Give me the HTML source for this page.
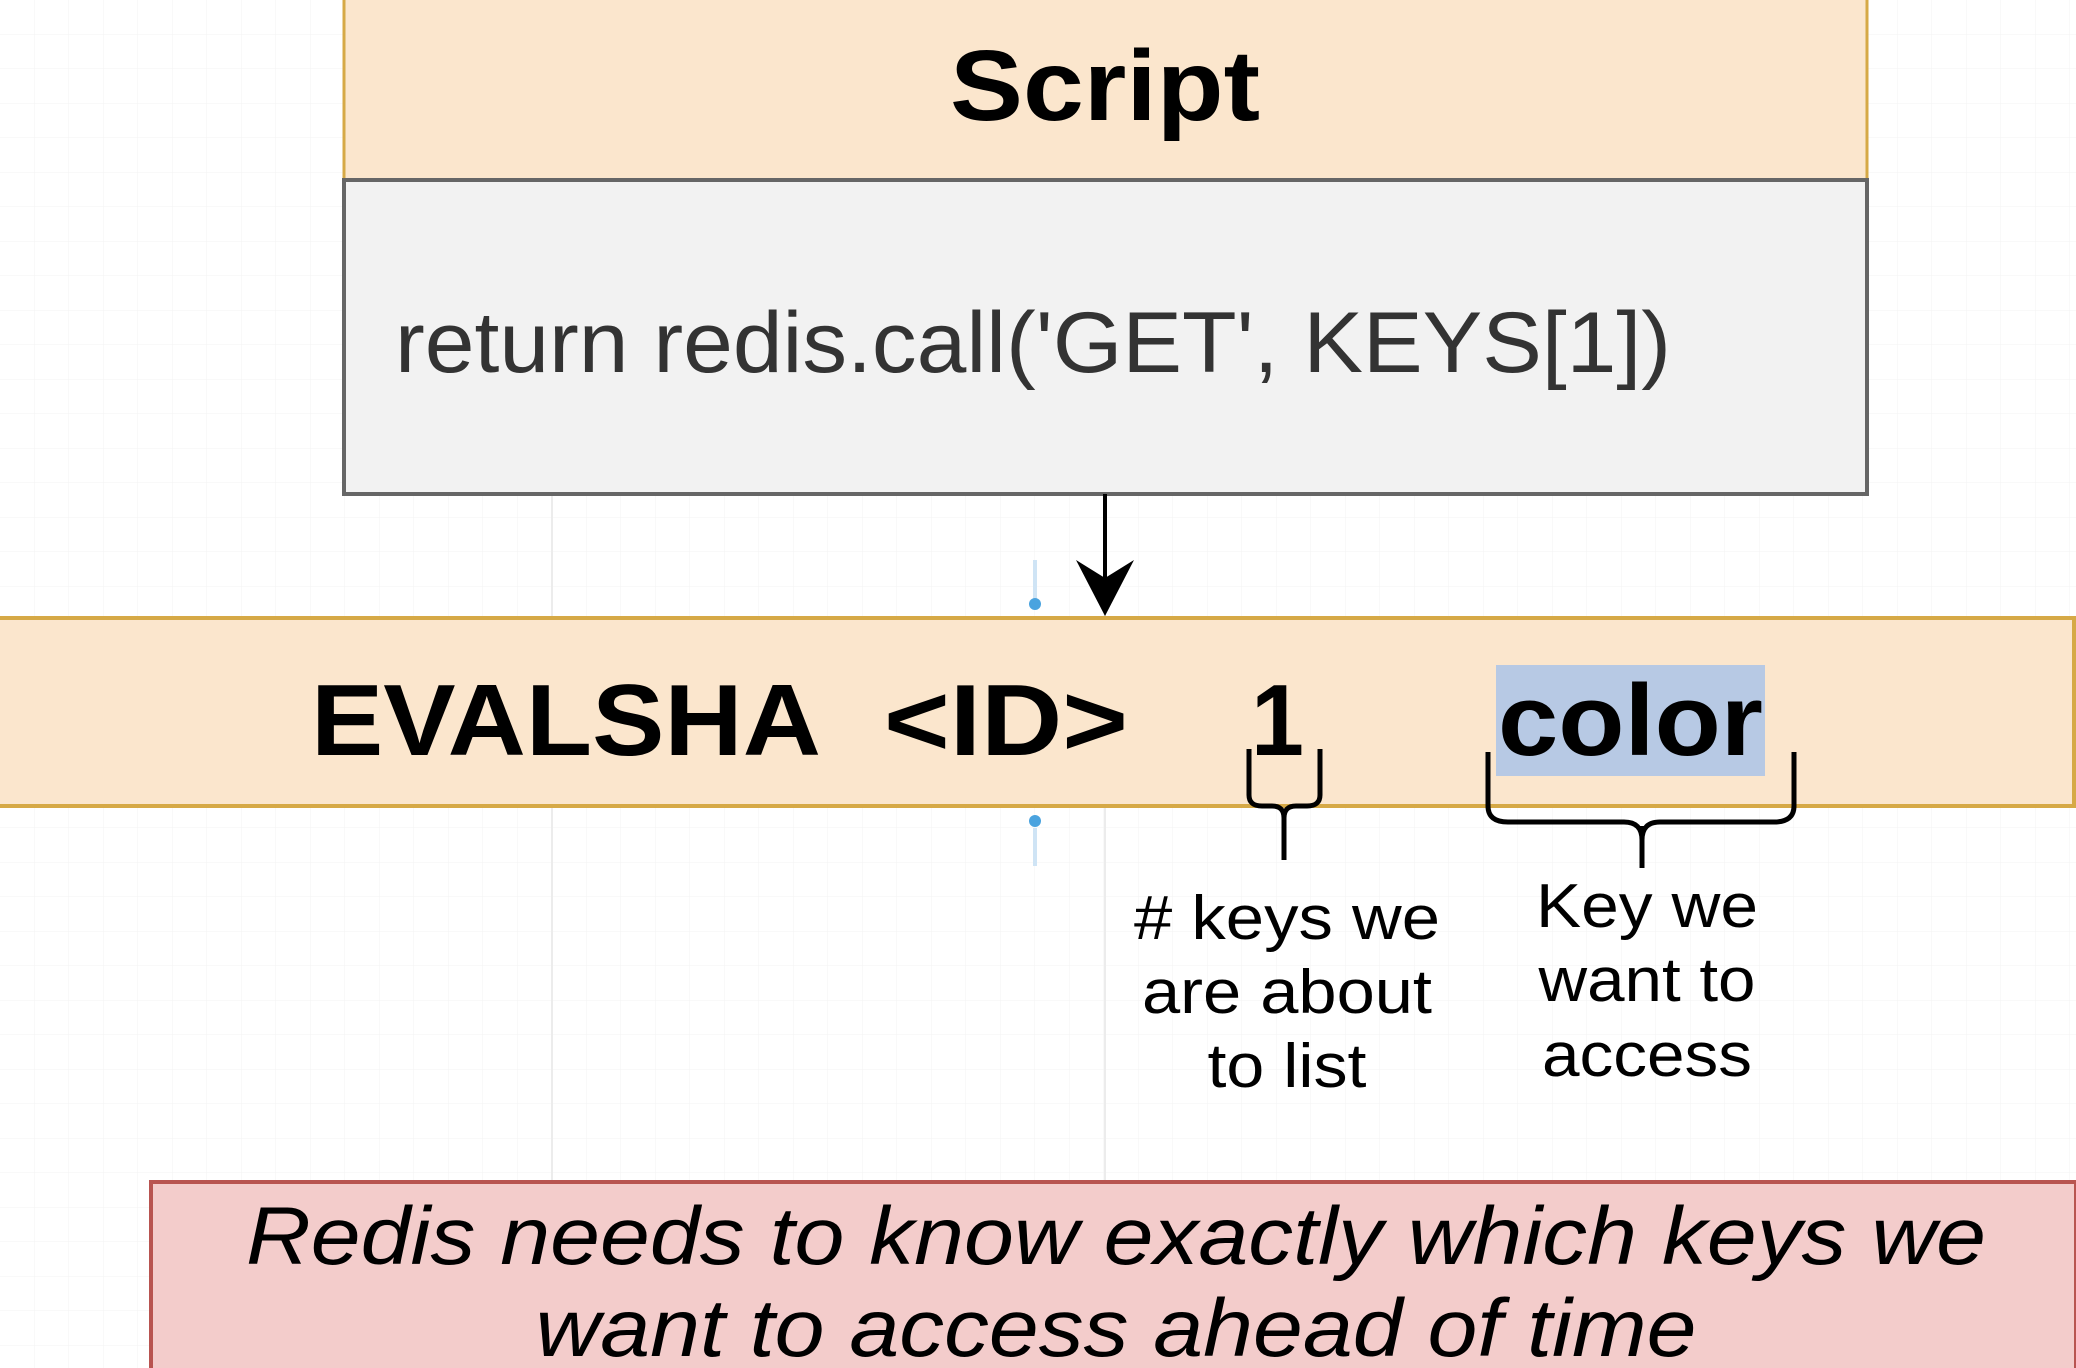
<!DOCTYPE html>
<html><head><meta charset="utf-8"><style>
html,body{margin:0;padding:0;background:#fff}
svg{display:block}
text{font-family:"Liberation Sans",Arial,sans-serif}
</style></head><body>
<svg width="2076" height="1368" viewBox="0 0 2076 1368" xmlns="http://www.w3.org/2000/svg">
<defs>
<pattern id="g" width="34.5" height="34.5" patternUnits="userSpaceOnUse" x="0" y="0">
<path d="M34.5 0V34.5H0" fill="none" stroke="#f3f3f3" stroke-width="1"/>
</pattern>
</defs>
<rect width="2076" height="1368" fill="url(#g)"/>
<line x1="552" y1="0" x2="552" y2="1368" stroke="#ececec" stroke-width="2"/>
<line x1="1105" y1="0" x2="1105" y2="1368" stroke="#ececec" stroke-width="2"/>
<rect x="344" y="-4" width="1523" height="184" fill="#fbe6cd" stroke="#d6a946" stroke-width="3"/>
<text x="1105" y="120" font-size="100" font-weight="bold" text-anchor="middle" fill="#000" textLength="310" lengthAdjust="spacingAndGlyphs">Script</text>
<rect x="344" y="180" width="1523" height="314" fill="#f2f2f2" stroke="#666" stroke-width="4"/>
<text x="395" y="372" font-size="86" fill="#333" textLength="1276" lengthAdjust="spacingAndGlyphs">return redis.call('GET', KEYS[1])</text>
<line x1="1105" y1="494" x2="1105" y2="590" stroke="#000" stroke-width="4"/>
<path d="M1076 560 L1105 616 L1134 560 L1105 578 Z" fill="#000"/>
<line x1="1035" y1="560" x2="1035" y2="600" stroke="#cfe4f5" stroke-width="4"/>
<circle cx="1035" cy="604" r="6" fill="#4aa3df"/>
<circle cx="1035" cy="821" r="6" fill="#4aa3df"/>
<line x1="1035" y1="828" x2="1035" y2="866" stroke="#cfe4f5" stroke-width="4"/>
<rect x="-4" y="618" width="2078" height="188" fill="#fbe6cd" stroke="#d6a946" stroke-width="4"/>
<rect x="1496" y="665" width="269" height="111" fill="#b7c9e4"/>
<g font-weight="bold" font-size="101" fill="#000">
<text x="311" y="755" textLength="510" lengthAdjust="spacingAndGlyphs">EVALSHA</text>
<text x="884" y="755" textLength="244" lengthAdjust="spacingAndGlyphs">&lt;ID&gt;</text>
<text x="1251" y="755" textLength="53" lengthAdjust="spacingAndGlyphs">1</text>
<text x="1498" y="755" textLength="265" lengthAdjust="spacingAndGlyphs">color</text>
</g>
<path d="M1249 749 V795 Q1249 806 1262 806 H1272 Q1284 806 1284 818 Q1284 806 1296 806 H1307 Q1320 806 1320 795 V749" fill="none" stroke="#000" stroke-width="5"/>
<line x1="1284" y1="810" x2="1284" y2="860" stroke="#000" stroke-width="5"/>
<path d="M1488 752 V806 Q1488 822 1508 822 H1624 Q1642 822 1642 840 Q1642 822 1660 822 H1774 Q1794 822 1794 806 V752" fill="none" stroke="#000" stroke-width="5"/>
<line x1="1642" y1="826" x2="1642" y2="868" stroke="#000" stroke-width="5"/>
<g font-size="62" fill="#000" text-anchor="middle">
<text x="1287" y="939" textLength="306" lengthAdjust="spacingAndGlyphs">#&#160;keys we</text>
<text x="1287" y="1013" textLength="290" lengthAdjust="spacingAndGlyphs">are about</text>
<text x="1287" y="1087" textLength="159" lengthAdjust="spacingAndGlyphs">to list</text>
<text x="1647" y="927" textLength="222" lengthAdjust="spacingAndGlyphs">Key we</text>
<text x="1647" y="1001" textLength="217" lengthAdjust="spacingAndGlyphs">want to</text>
<text x="1647" y="1076" textLength="210" lengthAdjust="spacingAndGlyphs">access</text>
</g>
<rect x="151" y="1182" width="1925" height="200" fill="#f3cccb" stroke="#b85450" stroke-width="4"/>
<g font-size="82" font-style="italic" fill="#000" text-anchor="middle">
<text x="1116" y="1264" textLength="1740" lengthAdjust="spacingAndGlyphs">Redis needs to know exactly which keys we</text>
<text x="1116" y="1356" textLength="1161" lengthAdjust="spacingAndGlyphs">want to access ahead of time</text>
</g>
</svg>
</body></html>
